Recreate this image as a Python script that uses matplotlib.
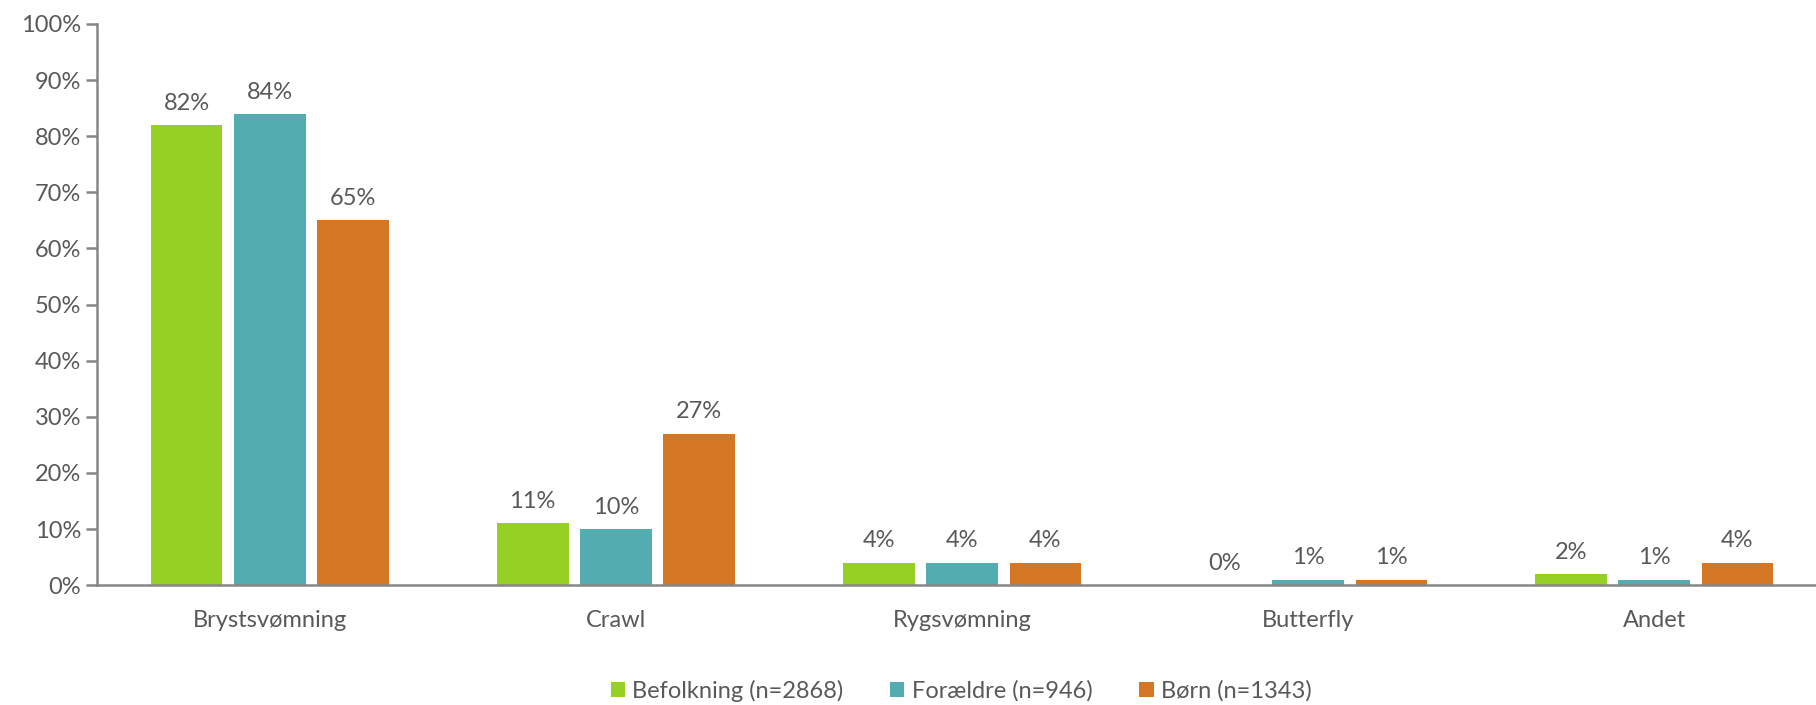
import matplotlib.pyplot as plt
import numpy as np

categories = ["Brystsvømning", "Crawl", "Rygsvømning", "Butterfly", "Andet"]
series = ["Befolkning (n=2868)", "Forældre (n=946)", "Børn (n=1343)"]
befolkning = [82, 11, 4, 0, 2]
foraeldre = [84, 10, 4, 1, 1]
boern = [65, 27, 4, 1, 4]

colors = ["#96D024", "#53ACB0", "#D57624"]
grey = "#595959"

plt.rcParams['font.family'] = ['Lato', 'DejaVu Sans']

fig = plt.figure(figsize=(18.16, 7.05), dpi=100)
# the category axis runs a little past the right edge, as in the original
ax = fig.add_axes([0.0534, 0.170, 0.9527, 0.796])

x = np.arange(len(categories))
width = 0.2075
step = 0.241
for i, (vals, name) in enumerate(zip([befolkning, foraeldre, boern], series)):
    pos = x + (i - 1) * step
    ax.bar(pos, vals, width, color=colors[i], label=name)
    for p, v in zip(pos, vals):
        ax.text(p, v + 2, f"{v}%", ha='center', va='bottom', fontsize=17, color=grey)

ax.set_xlim(-0.5, len(categories) - 0.5)
ax.set_ylim(0, 100)
ax.set_yticks(range(0, 101, 10))
ax.set_yticklabels([f"{v}%" for v in range(0, 101, 10)])
ax.set_xticks(x)
ax.set_xticklabels(categories)

for s in ['top', 'right']:
    ax.spines[s].set_visible(False)
for s in ['left', 'bottom']:
    ax.spines[s].set_color("#868686")
    ax.spines[s].set_linewidth(1.8)
ax.tick_params(axis='y', colors="#868686", labelcolor=grey, labelsize=17, length=8, width=1.8)
ax.tick_params(axis='x', length=0, labelcolor=grey, labelsize=17, pad=18)

leg = ax.legend(loc='center', bbox_to_anchor=(0.0, -0.195), ncol=3, frameon=False,
                fontsize=17, labelcolor=grey, handlelength=0.6, handleheight=0.6,
                handletextpad=0.3, columnspacing=2.0,
                bbox_transform=fig.transFigure)
leg.set_bbox_to_anchor((961 / 1816, 14 / 705), transform=fig.transFigure)

fig.savefig("out.png", dpi=100)
